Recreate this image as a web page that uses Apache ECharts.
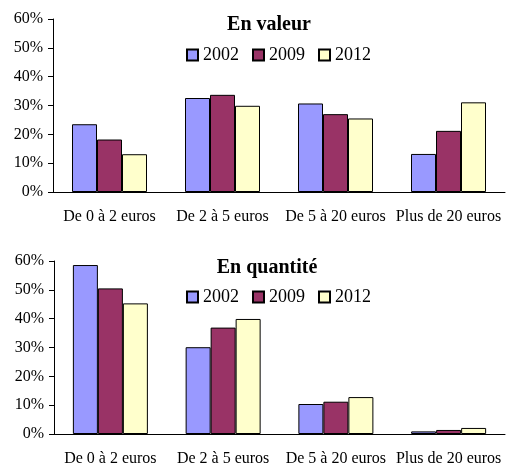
<!DOCTYPE html>
<html>
<head>
<meta charset="utf-8">
<script src="https://cdn.jsdelivr.net/npm/echarts@6/dist/echarts.min.js"></script>
<style>
  html, body { margin: 0; padding: 0; background: #fff; }
  #chart { width: 506px; height: 468px; }
</style>
</head>
<body>
<div id="chart"></div>
<script>
var categories = ['De 0 à 2 euros', 'De 2 à 5 euros', 'De 5 à 20 euros', 'Plus de 20 euros']
var years = ['2002', '2009', '2012']
var colors = ['#9999FF', '#993366', '#FFFFCC']
var yTicks = [0, 10, 20, 30, 40, 50, 60]

// En valeur (%)
var valeur2002 = [23.5, 32.6, 30.7, 13.2]
var valeur2009 = [18.2, 33.7, 27.0, 21.2]
var valeur2012 = [13.1, 29.9, 25.5, 31.1]

// En quantité (%)
var quantite2002 = [58.6, 30.1, 10.4, 0.9]
var quantite2009 = [50.5, 36.9, 11.2, 1.4]
var quantite2012 = [45.3, 39.9, 12.8, 2.1]

var font = '"Liberation Serif", "Times New Roman", serif'
var chart = echarts.init(document.getElementById('chart'))

function xAxisFor(gridIndex) {
  return {
    type: 'category',
    gridIndex: gridIndex,
    data: categories,
    axisLine: { lineStyle: { color: '#000', width: 1 } },
    axisTick: { length: 5, lineStyle: { color: '#000' } },
    axisLabel: { color: '#000', fontFamily: font, fontSize: 16, margin: 17, interval: 0 }
  }
}

function yAxisFor(gridIndex) {
  return {
    type: 'value',
    gridIndex: gridIndex,
    min: yTicks[0],
    max: yTicks[yTicks.length - 1],
    interval: 10,
    splitLine: { show: false },
    axisLine: { show: true, lineStyle: { color: '#000', width: 1 } },
    axisTick: { show: true, length: 5, lineStyle: { color: '#000' } },
    axisLabel: { color: '#000', fontFamily: font, fontSize: 16, margin: 10, formatter: '{value}%' }
  }
}

function barSeries(name, data, idx, gridIndex) {
  return {
    name: name,
    type: 'bar',
    xAxisIndex: gridIndex,
    yAxisIndex: gridIndex,
    data: data,
    barWidth: 25,
    barGap: '0%',
    itemStyle: { color: colors[idx], borderColor: '#000', borderWidth: 1 },
    silent: true
  }
}

function legendFor(top) {
  return {
    data: years,
    left: 186,
    top: top,
    padding: 0,
    icon: 'rect',
    itemWidth: 11,
    itemHeight: 11,
    itemGap: 13,
    selectedMode: false,
    textStyle: { color: '#000', fontFamily: font, fontSize: 18 }
  }
}

chart.setOption({
  animation: false,
  title: [
    {
      text: 'En valeur',
      left: 264,
      top: 10,
      textAlign: 'center',
      textStyle: { color: '#000', fontFamily: font, fontSize: 20, fontWeight: 'bold' }
    },
    {
      text: 'En quantité',
      left: 262,
      top: 253,
      textAlign: 'center',
      textStyle: { color: '#000', fontFamily: font, fontSize: 20, fontWeight: 'bold' }
    }
  ],
  legend: [legendFor(46), legendFor(288)],
  grid: [
    { left: 53, right: 1, top: 19, height: 173 },
    { left: 54, right: 1, top: 261, height: 173 }
  ],
  xAxis: [xAxisFor(0), xAxisFor(1)],
  yAxis: [yAxisFor(0), yAxisFor(1)],
  series: [
    barSeries('2002', valeur2002, 0, 0),
    barSeries('2009', valeur2009, 1, 0),
    barSeries('2012', valeur2012, 2, 0),
    barSeries('2002', quantite2002, 0, 1),
    barSeries('2009', quantite2009, 1, 1),
    barSeries('2012', quantite2012, 2, 1)
  ]
})
</script>
</body>
</html>
